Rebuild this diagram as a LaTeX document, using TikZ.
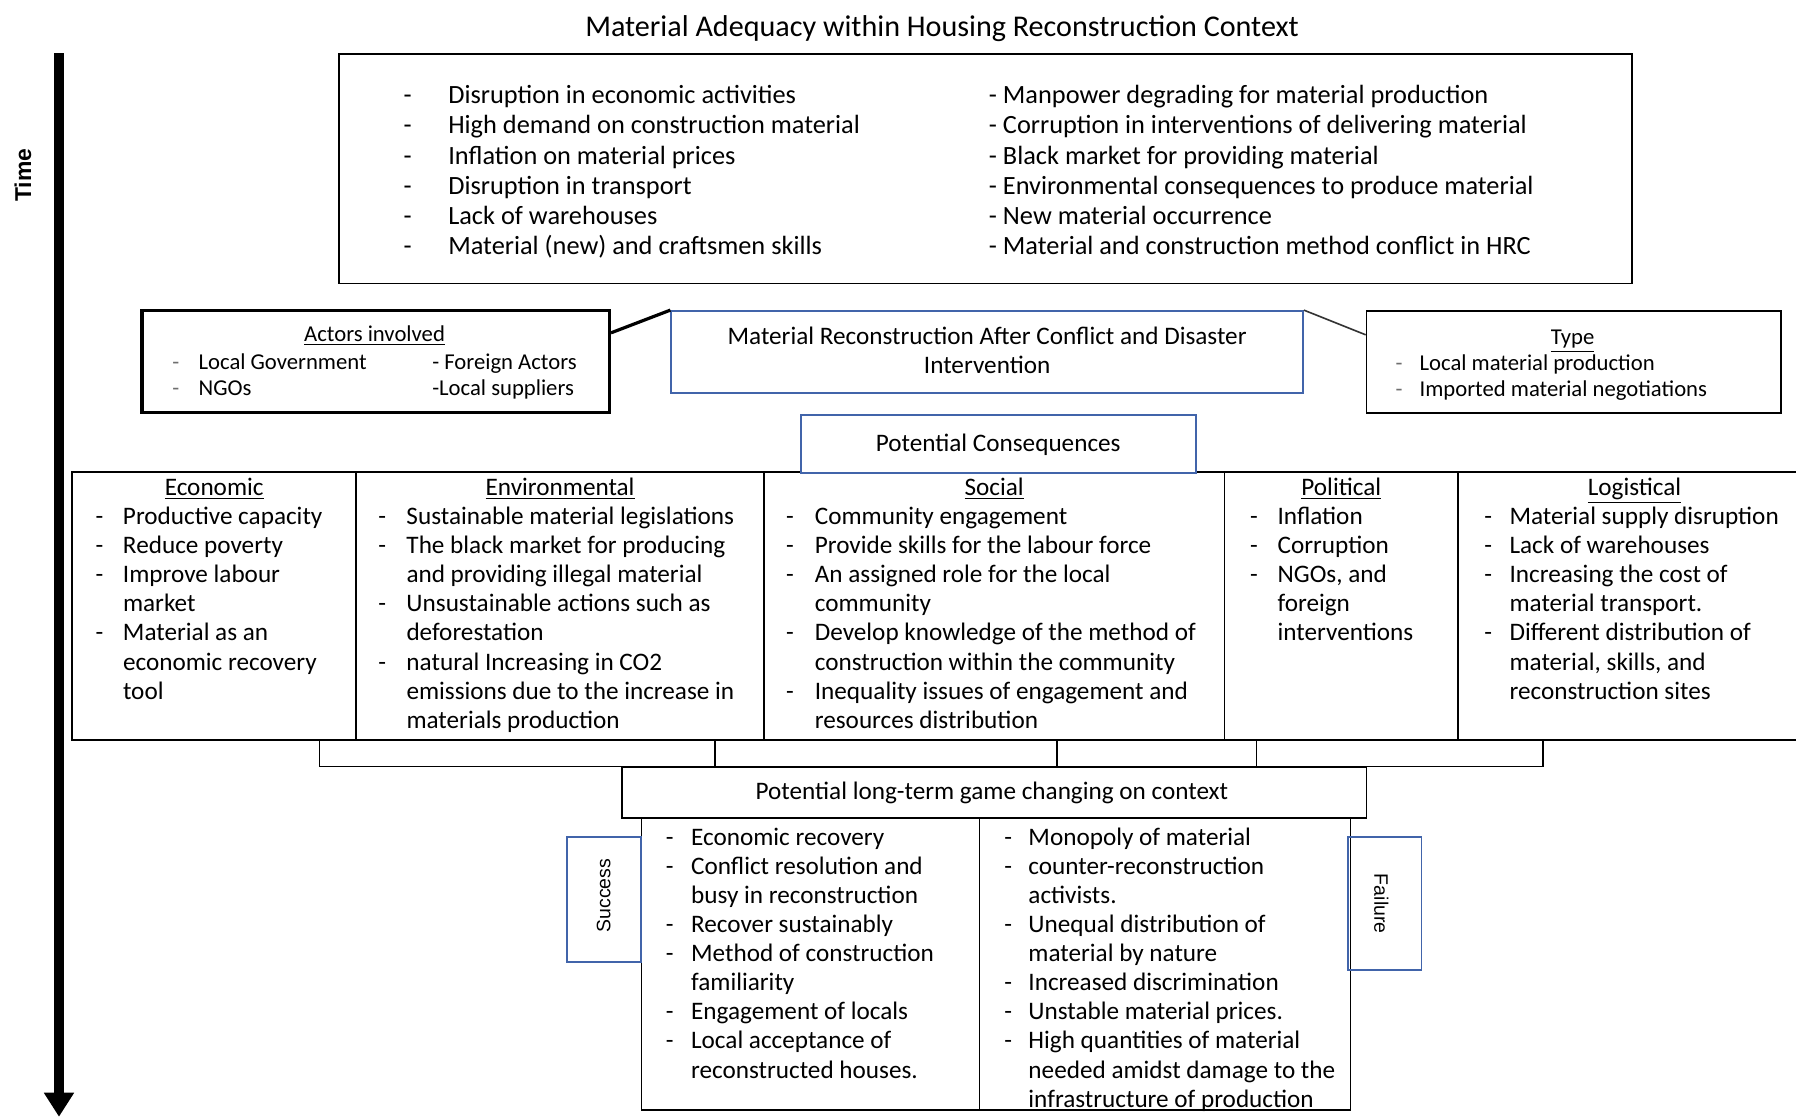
\documentclass[tikz,border=0pt]{standalone}
\usepackage{fontspec}
\setmainfont{Carlito}
\newfontfamily\arialfont{Liberation Sans}
\usepackage{array}
\usetikzlibrary{arrows.meta,fit}
\definecolor{boxblue}{RGB}{65,100,170}
\definecolor{bulletgray}{RGB}{110,110,110}

% list with a fixed-width dash column: \dlist{dash width}{rows}
\newcommand{\dlist}[2]{\begin{tabular}[t]{@{}p{#1}@{}l@{}}#2\end{tabular}}
% plain left-aligned list of lines
\newcommand{\plist}[1]{\begin{tabular}[t]{@{}l@{}}#1\end{tabular}}
% centred lines
\newcommand{\clist}[1]{\begin{tabular}[t]{@{}c@{}}#1\end{tabular}}
\newcommand{\fsz}[2]{\fontsize{#1}{#2}\selectfont}
\newcommand{\gd}{\textcolor{bulletgray}{-}}

\begin{document}
\begin{tikzpicture}[x=0.5pt,y=-0.5pt,
  frame/.style={draw=black, line width=0.7pt, inner sep=0pt},
  heavyframe/.style={draw=black, line width=1.4pt, inner sep=0pt},
  blueframe/.style={draw=boxblue, line width=0.75pt, inner sep=0pt},
  txt/.style={inner sep=0pt, anchor=base west},
  ctxt/.style={inner sep=0pt, anchor=base},
  topfont/.style={font=\fsz{11.5}{13.2}},
  bodyfont/.style={font=\fsz{11}{12.7}},
  smallfont/.style={font=\fsz{9.9}{11.25}},
  link/.style={line width=0.7pt, draw=black}
]
\useasboundingbox (0,0) rectangle (1568,975);
\fill[white] (0,0) rectangle (1568,975);

% ---------- title ----------
\node[ctxt, font=\fsz{13.15}{16}] (title) at (822.5,31.5)
  {Material Adequacy within Housing Reconstruction Context};

% ---------- time axis ----------
\coordinate (tstart) at (51.5,46.6);
\coordinate (tend) at (51.5,975);
\draw[line width=4.2pt, -{Triangle[width=12.5pt,length=10.5pt]}] (tstart) -- (tend);
\node[inner sep=0pt, rotate=90, font=\arialfont\bfseries\fsz{10}{12}] (time) at (20,153) {Time};

% ---------- contextual pressures ----------
\node[frame, fit={(296,47) (1425,247.5)}] (top) {};
\node[txt, topfont] (topleft) at (352,90.5) {\dlist{19.5pt}{%
  - & Disruption in economic activities\\
  - & High demand on construction material\\
  - & Inflation on material prices\\
  - & Disruption in transport\\
  - & Lack of warehouses\\
  - & Material (new) and craftsmen skills}};
\node[txt, topfont] (topright) at (863,90.5) {\plist{%
  - Manpower degrading for material production\\
  - Corruption in interventions of delivering material\\
  - Black market for providing material\\
  - Environmental consequences to produce material\\
  - New material occurrence\\
  - Material and construction method conflict in HRC}};

% ---------- actors / intervention / type ----------
\node[heavyframe, fit={(124,271) (532,360)}] (actors) {};
\node[ctxt, smallfont] (actorshead) at (327,298) {\underline{Actors involved}};
\node[txt, smallfont] (actorsleft) at (150,322.5) {\dlist{11.5pt}{%
  \gd & Local Government\\
  \gd & NGOs}};
\node[txt, smallfont] (actorsright) at (377,322.5) {\plist{%
  - Foreign Actors\\
  -Local suppliers}};

\node[blueframe, fit={(586,271.5) (1137.6,343)}] (mid) {};
\node[ctxt, font=\fsz{11}{12.35}] (midtext) at (861.8,301) {\clist{%
  Material Reconstruction After Conflict and Disaster\\
  Intervention}};

\node[frame, fit={(1193,271.5) (1555,360.5)}] (type) {};
\node[ctxt, smallfont] (typehead) at (1373,301) {\underline{Type}};
\node[txt, smallfont] (typelist) at (1218,323.5) {\dlist{10.5pt}{%
  \gd & Local material production\\
  \gd & Imported material negotiations}};

\draw[line width=1.4pt] ([yshift=-10.5pt]actors.north east) -- (mid.north west);
\draw[line width=0.7pt, draw=black!80] (mid.north east) -- ([yshift=-10.75pt]type.north west);

% ---------- potential consequences table ----------
\node[frame, fit={(63,412) (311,646)}] (econ) {};
\node[frame, fit={(311,412) (667,646)}] (env) {};
\node[frame, fit={(667,412) (1069,646)}] (soc) {};
\node[frame, fit={(1069,412) (1273,646)}] (pol) {};
\node[frame, fit={(1273,412) (1574,646)}] (log) {};

\node[blueframe, fill=white, fit={(699,362) (1044,413)}] (pc) {};
\node[ctxt, bodyfont] (pctext) at (871.5,394) {Potential Consequences};

\node[ctxt, bodyfont] (econhead) at (187,432.5) {\underline{Economic}};
\node[ctxt, bodyfont] (envhead) at (489,432.5) {\underline{Environmental}};
\node[ctxt, bodyfont] (sochead) at (868,432.5) {\underline{Social}};
\node[ctxt, bodyfont] (polhead) at (1171,432.5) {\underline{Political}};
\node[ctxt, bodyfont] (loghead) at (1427,432.5) {\underline{Logistical}};

\node[txt, bodyfont] (econlist) at (83,458) {\dlist{12pt}{%
  - & Productive capacity\\
  - & Reduce poverty\\
  - & Improve labour\\
    & market\\
  - & Material as an\\
    & economic recovery\\
    & tool}};
\node[txt, bodyfont] (envlist) at (330,458) {\dlist{12.25pt}{%
  - & Sustainable material legislations\\
  - & The black market for producing\\
    & and providing illegal material\\
  - & Unsustainable actions such as\\
    & deforestation\\
  - & natural Increasing in CO2\\
    & emissions due to the increase in\\
    & materials production}};
\node[txt, bodyfont] (soclist) at (686,458) {\dlist{12.5pt}{%
  - & Community engagement\\
  - & Provide skills for the labour force\\
  - & An assigned role for the local\\
    & community\\
  - & Develop knowledge of the method of\\
    & construction within the community\\
  - & Inequality issues of engagement and\\
    & resources distribution}};
\node[txt, bodyfont] (pollist) at (1091,458) {\dlist{12pt}{%
  - & Inflation\\
  - & Corruption\\
  - & NGOs, and\\
    & foreign\\
    & interventions}};
\node[txt, bodyfont] (loglist) at (1295.5,458) {\dlist{11pt}{%
  - & Material supply disruption\\
  - & Lack of warehouses\\
  - & Increasing the cost of\\
    & material transport.\\
  - & Different distribution of\\
    & material, skills, and\\
    & reconstruction sites}};

% ---------- long-term outcome ----------
\node[frame, fit={(543,670) (1193,714)}] (lt) {};
\node[ctxt, bodyfont] (lttext) at (866,698) {Potential long-term game changing on context};

\coordinate (b1) at (279,646);
\coordinate (b2) at (624,646);
\coordinate (b3) at (923,646);
\coordinate (b4) at (1097,646);
\coordinate (b5) at (1347,646);
\draw[link] (b1) -- (b1 |- lt.north) -- (b5 |- lt.north) -- (b5);
\draw[link] (b2) -- (b2 |- lt.north);
\draw[link] (b3) -- (b3 |- lt.north);
\draw[link] (b4) -- (b4 |- lt.north);

\node[frame, fit={(560,714) (855,969)}] (succcol) {};
\node[frame, fit={(855,714) (1179,969)}] (failcol) {};

\node[txt, bodyfont] (succlist) at (581,738) {\dlist{11pt}{%
  - & Economic recovery\\
  - & Conflict resolution and\\
    & busy in reconstruction\\
  - & Recover sustainably\\
  - & Method of construction\\
    & familiarity\\
  - & Engagement of locals\\
  - & Local acceptance of\\
    & reconstructed houses.}};
\node[txt, bodyfont] (faillist) at (876.5,738) {\dlist{10.5pt}{%
  - & Monopoly of material\\
  - & counter-reconstruction\\
    & activists.\\
  - & Unequal distribution of\\
    & material by nature\\
  - & Increased discrimination\\
  - & Unstable material prices.\\
  - & High quantities of material\\
    & needed amidst damage to the\\
    & infrastructure of production}};

\node[blueframe, fit={(495,731) (559.5,840)}] (succ) {};
\node[inner sep=0pt, rotate=90, font=\arialfont\fsz{8.5}{10}] (succtext) at (527,782) {Success};
\node[blueframe, fit={(1177,731) (1241,847)}] (fail) {};
\node[inner sep=0pt, rotate=-90, font=\arialfont\fsz{8.5}{10}] (failtext) at (1206,789) {Failure};

\end{tikzpicture}
\end{document}
